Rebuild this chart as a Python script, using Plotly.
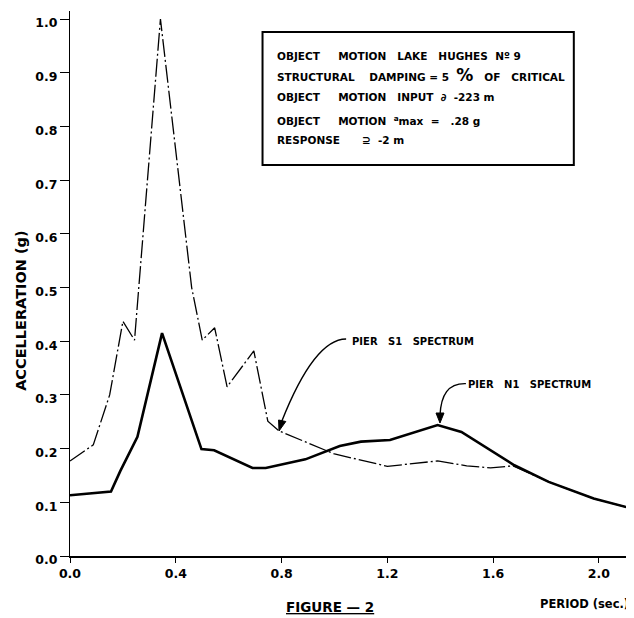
import plotly.graph_objects as go

# ---------------- data ----------------
s1_period = [0.0, 0.088, 0.15, 0.20, 0.244, 0.342, 0.46, 0.50, 0.547, 0.594, 0.695,
             0.748, 0.79, 1.0, 1.2, 1.39, 1.5, 1.59, 1.675, 1.81, 1.98, 2.12]
s1_accel = [0.177, 0.207, 0.30, 0.437, 0.402, 1.0, 0.50, 0.402, 0.425, 0.315, 0.382,
            0.251, 0.233, 0.19, 0.167, 0.177, 0.168, 0.164, 0.168, 0.138, 0.107, 0.089]

n1_period = [0.0, 0.155, 0.19, 0.255, 0.348, 0.497, 0.545, 0.69, 0.74, 0.89, 1.02,
             1.1, 1.21, 1.39, 1.48, 1.68, 1.81, 1.98, 2.12]
n1_accel = [0.113, 0.12, 0.158, 0.222, 0.415, 0.199, 0.197, 0.164, 0.164, 0.18, 0.205,
            0.213, 0.216, 0.244, 0.231, 0.169, 0.138, 0.107, 0.089]

x_ticks = [0.0, 0.4, 0.8, 1.2, 1.6, 2.0]
y_ticks = [0.0, 0.1, 0.2, 0.3, 0.4, 0.5, 0.6, 0.7, 0.8, 0.9, 1.0]

NB = "\u00a0"
def sp(n):
    return NB * n

info_lines = [
    "OBJECT" + sp(5) + "MOTION" + sp(3) + "LAKE" + sp(3) + "HUGHES" + sp(2) + "Nº" + NB + "9",
    "STRUCTURAL" + sp(4) + "DAMPING" + NB + "=" + NB + "5" + sp(2)
    + "<span style='font-size:17px'>%</span>" + sp(3) + "OF" + sp(3) + "CRITICAL",
    "OBJECT" + sp(5) + "MOTION" + sp(3) + "INPUT" + sp(2) + "∂" + sp(2) + "-223" + NB + "m",
    "OBJECT" + sp(5) + "MOTION" + sp(2) + "<sup>a</sup>max" + sp(2) + "=" + sp(3) + ".28" + NB + "g",
    "RESPONSE" + sp(6) + "⊇" + sp(2) + "-2" + NB + "m",
]
info_y = [0.931, 0.896, 0.854, 0.812, 0.775]

FONT = "DejaVu Sans"

# helper for decorations placed by page pixel (plot area: x 70..632 -> 0..2.125, y 556..11 -> 0..1.015)
def px2d(px, py):
    return ((px - 70.0) / 264.47, (556.0 - py) / 537.0)

def tri_path(pts):
    d = [px2d(*p) for p in pts]
    return "M {:.4f},{:.4f} L {:.4f},{:.4f} L {:.4f},{:.4f} Z".format(
        d[0][0], d[0][1], d[1][0], d[1][1], d[2][0], d[2][1])

fig = go.Figure()
fig.add_trace(go.Scatter(
    x=s1_period, y=s1_accel, mode="lines", name="PIER S1 SPECTRUM",
    line=dict(color="black", width=1.3, dash="18px,3px,2px,3px"),
))
fig.add_trace(go.Scatter(
    x=n1_period, y=n1_accel, mode="lines", name="PIER N1 SPECTRUM",
    line=dict(color="black", width=2.6),
))

annotations = []
for txt, yy in zip(info_lines, info_y):
    annotations.append(dict(
        x=0.775, y=yy, xref="x", yref="y", text=txt, showarrow=False,
        xanchor="left", yanchor="middle",
        font=dict(family=FONT, size=10.5, color="black", weight="bold"),
    ))

# curve labels
annotations.append(dict(
    x=1.059, y=0.400, xref="x", yref="y", text="PIER" + sp(3) + "S1" + sp(3) + "SPECTRUM",
    showarrow=False, xanchor="left", yanchor="middle",
    font=dict(family=FONT, size=10, color="black", weight="bold")))
annotations.append(dict(
    x=1.497, y=0.320, xref="x", yref="y", text="PIER" + sp(3) + "N1" + sp(3) + "SPECTRUM",
    showarrow=False, xanchor="left", yanchor="middle",
    font=dict(family=FONT, size=10, color="black", weight="bold")))

# axis titles / figure caption
annotations.append(dict(
    x=-0.087, y=0.45, xref="paper", yref="paper", text="ACCELLERATION (g)", textangle=-90,
    showarrow=False, xanchor="center", yanchor="middle",
    font=dict(family=FONT, size=14.5, color="black", weight="bold")))
annotations.append(dict(
    x=0.998, y=-0.088, xref="paper", yref="paper", text="PERIOD (sec.)",
    showarrow=False, xanchor="right", yanchor="middle",
    font=dict(family=FONT, size=11.5, color="black", weight="bold")))
annotations.append(dict(
    x=0.463, y=-0.094, xref="paper", yref="paper", text="<u>FIGURE — 2</u>",
    showarrow=False, xanchor="center", yanchor="middle",
    font=dict(family=FONT, size=13.5, color="black", weight="bold")))

shapes = [
    dict(type="rect", xref="x", yref="y", x0=0.728, x1=1.905, y0=0.728, y1=0.976,
         line=dict(color="black", width=2), fillcolor="rgba(0,0,0,0)"),
    # leader curves
    dict(type="path", xref="x", yref="y",
         path="M 1.044,0.404 C 0.953,0.404 0.870,0.337 0.800,0.250",
         line=dict(color="black", width=1.4)),
    dict(type="path", xref="x", yref="y",
         path="M 1.497,0.321 C 1.429,0.322 1.403,0.300 1.399,0.262",
         line=dict(color="black", width=1.4)),
    # arrowheads
    dict(type="path", xref="x", yref="y",
         path=tri_path([(279.0, 431.0), (285.8, 421.5), (278.6, 420.0)]),
         line=dict(color="black", width=1), fillcolor="black"),
    dict(type="path", xref="x", yref="y",
         path=tri_path([(440.0, 423.0), (436.0, 413.0), (444.0, 413.0)]),
         line=dict(color="black", width=1), fillcolor="black"),
]

# the page adds an 8px body margin, so the figure is 8px smaller and shifted
fig.update_layout(
    width=626, height=610,
    margin=dict(l=62, r=2, t=3, b=62),
    paper_bgcolor="white", plot_bgcolor="white",
    showlegend=False,
    annotations=annotations,
    shapes=shapes,
    xaxis=dict(
        range=[0, 2.125], tickvals=x_ticks, tickformat=".1f",
        showgrid=False, zeroline=False, showline=True, linecolor="black", linewidth=1.5,
        ticks="outside", ticklen=5, tickwidth=1.2, tickcolor="black",
        tickfont=dict(family=FONT, size=12.5, color="black", weight="bold"),
    ),
    yaxis=dict(
        range=[0, 1.015], tickvals=y_ticks, tickformat=".1f",
        showgrid=False, zeroline=False, showline=True, linecolor="black", linewidth=1.2,
        ticks="outside", ticklen=9, tickwidth=1.2, tickcolor="black",
        ticklabelshift=4,
        tickfont=dict(family=FONT, size=12.5, color="black", weight="bold"),
    ),
)

fig.write_html("out.html")
